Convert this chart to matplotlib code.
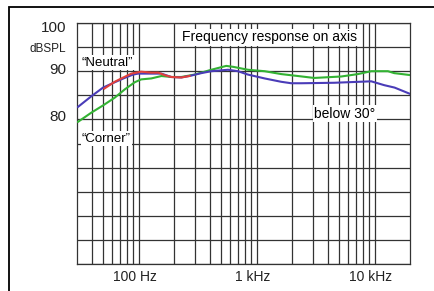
import matplotlib
matplotlib.use("Agg")
import matplotlib.pyplot as plt
import matplotlib.transforms as mtransforms
from matplotlib.patches import Rectangle

plt.rcParams['font.family'] = ['Liberation Sans', 'DejaVu Sans']

# ---- data ----
blue_f = [30.6, 39.7, 49.9, 62.6, 76, 89.7, 99, 120, 156, 189, 230, 280, 340, 413,
          572, 695, 845, 1170, 1620, 1970, 2390, 4550, 9380, 12100, 14800, 20000]
blue_db = [82.6, 84.8, 86.6, 87.7, 88.6, 89.3, 89.5, 89.5, 89.5, 88.8, 88.7, 89.1, 89.6, 90.0,
           90.3, 90.0, 89.3, 88.5, 87.8, 87.5, 87.5, 87.6, 87.9, 87.1, 86.6, 85.3]

green_f = [30.6, 39.7, 49.9, 62.6, 76, 92.5, 105, 128, 156, 189, 230, 298, 413, 553, 635,
           845, 1170, 1620, 2240, 3080, 5220, 7230, 9380, 13000, 14700, 20000]
green_db = [79.5, 81.4, 82.9, 84.5, 86.2, 87.7, 88.3, 88.5, 89.0, 88.8, 88.8, 89.3, 90.3, 91.1, 90.9,
            90.3, 90.0, 89.4, 89.0, 88.6, 88.9, 89.4, 90.0, 90.0, 89.6, 89.2]

red_f = [51.2, 62.6, 71.3, 86.7, 105, 128, 147, 165, 189, 230, 270]
red_db = [86.4, 87.8, 88.5, 89.5, 89.9, 89.7, 89.7, 89.2, 88.8, 88.7, 89.0]

x_major = [100, 1000, 10000]
x_major_labels = ['100 Hz', '1 kHz', '10 kHz']
x_minor = [40, 50, 60, 70, 80, 90,
           200, 300, 400, 500, 600, 700, 800, 900,
           2000, 3000, 4000, 5000, 6000, 7000, 8000, 9000]
y_grid = [50, 55, 60, 65, 70, 75, 80, 85, 90, 95, 100]
y_ticks = [100, 95, 90, 80]
y_tick_labels = ['100', 'dBSPL', '90', '80']

W, H = 434, 291
fig = plt.figure(figsize=(W / 100, H / 100), dpi=100)
fig.patch.set_facecolor('white')

# outer frame
fig.patches.append(Rectangle((9 / W, -0.2), 1.2, 1.2 - 7 / H, transform=fig.transFigure,
                             fill=False, edgecolor='black', linewidth=1.3, zorder=0))

ax = fig.add_axes([77 / W, 1 - 264 / H, (410 - 77) / W, (264 - 23) / H])
ax.set_xscale('log')
ax.set_xlim(30, 20000)
ax.set_ylim(50, 100)

gcol = '#333333'
for f in x_major + x_minor:
    ax.axvline(f, color=gcol, lw=0.9, zorder=1)
for y in y_grid:
    ax.axhline(y, color=gcol, lw=0.9, zorder=1)
for s in ax.spines.values():
    s.set_color(gcol)
    s.set_linewidth(0.9)

ax.plot(green_f, green_db, color='#33b233', lw=1.5, zorder=3)
ax.plot(blue_f, blue_db, color='#4a3cb8', lw=1.5, zorder=4)
ax.plot(red_f, red_db, color='#e0403a', lw=1.5, zorder=5)

ax.set_xticks(x_major)
ax.set_xticklabels(x_major_labels, fontsize=10)
ax.set_xticks([], minor=True)
ax.set_yticks(y_ticks)
ax.set_yticklabels(y_tick_labels, fontsize=11)
ax.tick_params(axis='both', length=0, pad=4, colors='#222222')
ax.tick_params(axis='y', pad=8)
for lab in ax.get_yticklabels():
    if lab.get_text() == 'dBSPL':
        lab.set_fontsize(8.5)
# per-label nudges (pixels)
ydy = {'100': -3, 'dBSPL': 0, '90': 3, '80': 4}
for lab in ax.get_yticklabels():
    off = mtransforms.ScaledTranslation(0, ydy[lab.get_text()] / 100, fig.dpi_scale_trans)
    lab.set_transform(lab.get_transform() + off)
for lab in ax.get_xticklabels():
    off = mtransforms.ScaledTranslation(-4 / 100, 0, fig.dpi_scale_trans)
    lab.set_transform(lab.get_transform() + off)

bbox = dict(boxstyle='square,pad=0.1', facecolor='white', edgecolor='none')
ax.text(1280, 97, 'Frequency response on axis', fontsize=10, ha='center', va='center',
        bbox=bbox, zorder=6)
ax.text(33, 91.8, '\u201cNeutral\u201d', fontsize=9.5, ha='left', va='center', bbox=bbox, zorder=6)
ax.text(33, 76.0, '\u201cCorner\u201d', fontsize=9.5, ha='left', va='center', bbox=bbox, zorder=6)
ax.text(3080, 81.2, 'below 30\u00b0', fontsize=10, ha='left', va='center', bbox=bbox, zorder=6)

fig.savefig('out.png', dpi=100, facecolor='white')
